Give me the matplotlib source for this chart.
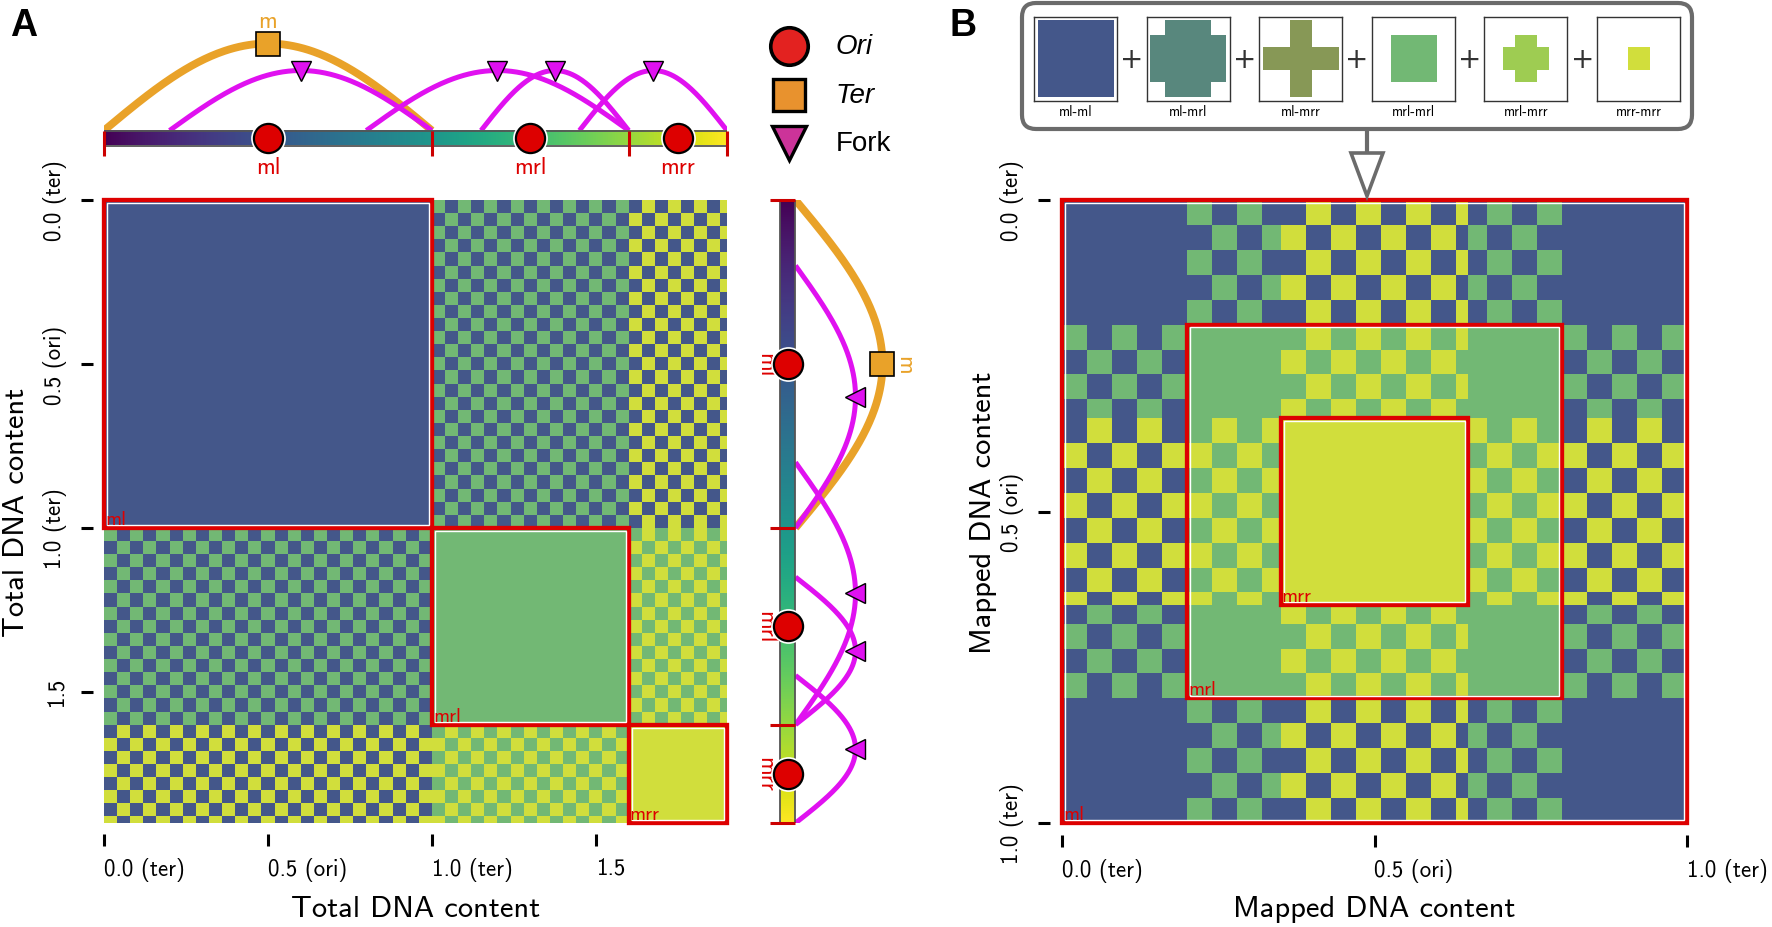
import numpy as np
import matplotlib
matplotlib.use("Agg")
import matplotlib.pyplot as plt
import matplotlib.colors as mcolors
from matplotlib.patches import Rectangle, FancyBboxPatch, Polygon

# ---------------- data ----------------
copy_names = ["ml", "mrl", "mrr"]
copy_start = [0.0, 0.2, 0.35]        # mapped start of each replicated copy
copy_end = [1.0, 0.8, 0.65]          # mapped end of each replicated copy
copy_colors = ["#44578A", "#72B874", "#D1DE3C"]
ori_position = 0.5
checker_cell = 0.04
pair_list = [(0, 0), (0, 1), (0, 2), (1, 1), (1, 2), (2, 2)]
pair_labels = ["ml-ml", "ml-mrl", "ml-mrr", "mrl-mrl", "mrl-mrr", "mrr-mrr"]
pair_colors = ["#44578A", "#58877D", "#879856", "#72B874", "#9ECC52", "#D1DE3C"]
pair_even_copy = [0, 1, 0, 1, 1, 2]  # copy whose colour fills the even checker cells
total_ticks = [0.0, 0.5, 1.0, 1.5]
total_ticklabels = ["0.0 (ter)", "0.5 (ori)", "1.0 (ter)", "1.5"]
mapped_ticks = [0.0, 0.5, 1.0]
mapped_ticklabels = ["0.0 (ter)", "0.5 (ori)", "1.0 (ter)"]
legend_labels = ["Ori", "Ter", "Fork"]
ter_label = "m"

RED = "#DD0000"
ORANGE = "#E9A229"
MAGENTA = "#E011F0"
CM = "cmss10"

W, H, DPI = 1772, 928, 100
fig = plt.figure(figsize=(W / DPI, H / DPI), dpi=DPI)


def px_axes(left, top, w, h, **kw):
    return fig.add_axes([left / W, 1 - (top + h) / H, w / W, h / H], **kw)


# ---------------- derived geometry ----------------
copy_len = [e - s for s, e in zip(copy_start, copy_end)]
copy_offset = np.concatenate([[0.0], np.cumsum(copy_len)[:-1]])
total_len = float(sum(copy_len))
ori_total = [copy_offset[k] + (ori_position - copy_start[k]) for k in range(3)]
boundaries = list(copy_offset) + [total_len]
ter_arc = (copy_offset[0], copy_offset[0] + copy_len[0])
fork_arcs = []
for k in range(1, 3):
    p = k - 1
    fork_arcs.append((copy_offset[p] + copy_start[k] - copy_start[p], copy_offset[k]))
    fork_arcs.append((copy_offset[p] + copy_end[k] - copy_start[p], copy_offset[k] + copy_len[k]))
fork_arcs.sort()

rgb = np.array([mcolors.to_rgb(c) for c in copy_colors])
even_tab = np.zeros((3, 3), int)
odd_tab = np.zeros((3, 3), int)
for (a, b), e in zip(pair_list, pair_even_copy):
    even_tab[a, b] = even_tab[b, a] = e
    o = b if e == a else a
    odd_tab[a, b] = odd_tab[b, a] = o

res = 0.01
# ---- panel A matrix (total DNA coordinates) ----
nA = int(round(total_len / res))
tA = (np.arange(nA) + 0.5) * res
kA = np.searchsorted(np.cumsum(copy_len), tA, side="right")
idxA = np.floor((tA - copy_offset[kA]) / checker_cell).astype(int)
KR, KC = np.meshgrid(kA, kA, indexing="ij")
IR, IC = np.meshgrid(idxA, idxA, indexing="ij")
par = (IR + IC) % 2
cidx = np.where(par == 0, even_tab[KR, KC], odd_tab[KR, KC])
imgA = rgb[cidx]

# ---- panel B matrix (mapped coordinates, layered) ----
nB = int(round(1.0 / res))
xB = (np.arange(nB) + 0.5) * res
imgB = np.ones((nB, nB, 3))
masks = []
for (a, b), e in zip(pair_list, pair_even_copy):
    in_a = (xB >= copy_start[a]) & (xB < copy_end[a])
    in_b = (xB >= copy_start[b]) & (xB < copy_end[b])
    ia = np.floor((xB - copy_start[a]) / checker_cell).astype(int)
    ib = np.floor((xB - copy_start[b]) / checker_cell).astype(int)
    R1 = in_a[:, None] & in_b[None, :]
    P1 = (ia[:, None] + ib[None, :]) % 2
    R2 = in_b[:, None] & in_a[None, :]
    P2 = (ib[:, None] + ia[None, :]) % 2
    masks.append(R1 | R2)
    o = b if e == a else a
    for R, P in ((R1, P1), (R2, P2)):
        imgB[R & (P == 0)] = rgb[e]
        imgB[R & (P == 1)] = rgb[o]


def style_heat(ax, ticks, labels, name, off_px, ylab_x):
    for s in ax.spines.values():
        s.set_visible(False)
    ax.spines["bottom"].set_position(("outward", off_px * 0.72))
    ax.spines["left"].set_position(("outward", off_px * 0.72))
    ax.tick_params(axis="both", direction="out", length=8.5, width=2.2, color="black", labelsize=16.5)
    ax.tick_params(axis="x", pad=8)
    ax.tick_params(axis="y", pad=10)
    ax.set_xticks(ticks, labels, ha="left", fontfamily=CM)
    ax.set_yticks(ticks, labels, rotation=90, va="center", fontfamily=CM)
    ax.set_xlabel(name, fontsize=22, fontfamily=CM)
    ax.set_ylabel(name, fontsize=22, fontfamily=CM)
    ax.xaxis.label.set_va("center")
    ax.yaxis.label.set_va("center")
    ax.xaxis.set_label_coords(0.5, -0.137)
    ax.yaxis.set_label_coords(ylab_x, 0.5)


def boxes(ax, starts, lens, scale_px):
    d = 2.9 / scale_px
    for k, (s0, L) in enumerate(zip(starts, lens)):
        ax.add_patch(Rectangle((s0, s0), L, L, fill=False, ec=RED, lw=3.1, zorder=3, clip_on=False))
        ax.add_patch(Rectangle((s0 + d, s0 + d), L - 2 * d, L - 2 * d, fill=False, ec="white", lw=1.0, zorder=3))
        ax.text(s0 + 1.0 / scale_px, s0 + L - 4.0 / scale_px, copy_names[k], color=RED, fontsize=14.5,
                fontfamily=CM, ha="left", va="baseline", zorder=4)


# ---------------- panel A heatmap ----------------
axA = px_axes(104, 201, 623, 623)
axA.imshow(imgA, extent=[0, total_len, total_len, 0], interpolation="nearest", aspect="auto")
axA.set_xlim(0, total_len)
axA.set_ylim(total_len, 0)
style_heat(axA, total_ticks, total_ticklabels, "Total DNA content", 11, -0.14)
boxes(axA, copy_offset, copy_len, 623 / total_len)

# ---------------- panel B heatmap ----------------
axB = px_axes(1062, 201, 625, 623)
axB.imshow(imgB, extent=[0, 1, 1, 0], interpolation="nearest", aspect="auto")
axB.set_xlim(0, 1)
axB.set_ylim(1, 0)
style_heat(axB, mapped_ticks, mapped_ticklabels, "Mapped DNA content", 12, -0.125)
boxes(axB, copy_start, copy_len, 625)

# ---------------- arcs helper ----------------
s = np.linspace(0, 1, 200)


def arc(t0, t1, h):
    return t0 + (t1 - t0) * s, h * np.sin(np.pi * s)


H_TER, H_FORK = 87, 60
grad = np.linspace(0, 1, 512)

# ---------------- top genome bar ----------------
axT = px_axes(104, 0, 623, 200)
bar_top, bar_h = 131.5, 15
axT.imshow(grad[None, :], cmap="viridis", extent=[0, total_len, bar_top + bar_h, bar_top],
           aspect="auto", interpolation="bilinear", zorder=2)
axT.add_patch(Rectangle((0, bar_top), total_len, bar_h, fill=False, ec="#555555", lw=1.3, zorder=3))
T, off = arc(*ter_arc, H_TER)
axT.plot(T, bar_top - off, color=ORANGE, lw=5.6, solid_capstyle="butt", zorder=1)
for f0, f1 in fork_arcs:
    T, off = arc(f0, f1, H_FORK)
    axT.plot(T, bar_top - off, color=MAGENTA, lw=3.6, solid_capstyle="butt", zorder=1.5)
    axT.plot((f0 + f1) / 2, bar_top - H_FORK, marker="v", ms=15, mfc=MAGENTA, mec="black", mew=1.0, zorder=5)
axT.plot(sum(ter_arc) / 2, bar_top - H_TER, marker="s", ms=17, mfc=ORANGE, mec="black", mew=1.2, zorder=5)
axT.text(sum(ter_arc) / 2, bar_top - H_TER - 23, ter_label, color=ORANGE, fontsize=17, fontfamily=CM,
         ha="center", va="center")
for b in boundaries:
    axT.plot([b, b], [bar_top, bar_top + 25], color="#CC0000", lw=2.2, solid_capstyle="butt", zorder=4,
             clip_on=False)
for k, o in enumerate(ori_total):
    axT.plot(o, bar_top + bar_h / 2, marker="o", ms=24, mfc="white", mec="white", zorder=5)
    axT.plot(o, bar_top + bar_h / 2, marker="o", ms=21, mfc=RED, mec="black", mew=1.6, zorder=6)
    axT.text(o, 168, copy_names[k], color=RED, fontsize=17, fontfamily=CM, ha="center", va="center")
axT.set_xlim(0, total_len)
axT.set_ylim(200, 0)
axT.axis("off")

# ---------------- right genome bar ----------------
axR = px_axes(740, 201, 190, 623)
bar_l, bar_w = 780.5, 15
bar_r = bar_l + bar_w
axR.imshow(grad[:, None], cmap="viridis", extent=[bar_l, bar_r, total_len, 0],
           aspect="auto", interpolation="bilinear", zorder=2)
axR.add_patch(Rectangle((bar_l, 0), bar_w, total_len, fill=False, ec="#555555", lw=1.3, zorder=3))
T, off = arc(*ter_arc, H_TER)
axR.plot(bar_r + off, T, color=ORANGE, lw=5.6, solid_capstyle="butt", zorder=1)
for f0, f1 in fork_arcs:
    T, off = arc(f0, f1, H_FORK)
    axR.plot(bar_r + off, T, color=MAGENTA, lw=3.6, solid_capstyle="butt", zorder=1.5)
    axR.plot(bar_r + H_FORK, (f0 + f1) / 2, marker="<", ms=15, mfc=MAGENTA, mec="black", mew=1.0, zorder=5)
axR.plot(bar_r + H_TER, sum(ter_arc) / 2, marker="s", ms=17, mfc=ORANGE, mec="black", mew=1.2, zorder=5)
axR.text(bar_r + H_TER + 22, sum(ter_arc) / 2, ter_label, color=ORANGE, fontsize=17, fontfamily=CM,
         ha="center", va="center", rotation=-90)
for b in boundaries:
    axR.plot([bar_r - 25, bar_r], [b, b], color="#CC0000", lw=2.2, solid_capstyle="butt", zorder=4,
             clip_on=False)
for k, o in enumerate(ori_total):
    axR.plot(bar_l + bar_w / 2, o, marker="o", ms=24, mfc="white", mec="white", zorder=5)
    axR.plot(bar_l + bar_w / 2, o, marker="o", ms=21, mfc=RED, mec="black", mew=1.6, zorder=6)
    axR.text(765, o, copy_names[k], color=RED, fontsize=17, fontfamily=CM, ha="center", va="center",
             rotation=-90)
axR.set_xlim(740, 930)
axR.set_ylim(total_len, 0)
axR.axis("off")

# ---------------- overlay: legend, inset box, arrow, panel letters ----------------
ov = fig.add_axes([0, 0, 1, 1], zorder=0)
ov.set_xlim(0, W)
ov.set_ylim(H, 0)
ov.axis("off")

ov.text(10, 8, "A", fontsize=27, fontweight="bold", family="Liberation Sans", ha="left", va="top")
ov.text(950, 8, "B", fontsize=27, fontweight="bold", family="Liberation Sans", ha="left", va="top")

leg_y = [47, 96, 144]
ov.plot(789, leg_y[0], marker="o", ms=27, mfc="#E32220", mec="black", mew=2.6)
ov.plot(789, leg_y[1], marker="s", ms=23, mfc="#E8922E", mec="black", mew=2.4)
ov.plot(789, leg_y[2], marker="v", ms=25, mfc="#CC3399", mec="black", mew=2.4)
for y, lab, st in zip(leg_y, legend_labels, ["italic", "italic", "normal"]):
    ov.text(836, y, lab, fontsize=20, style=st, family="Liberation Sans", ha="left", va="center")

ov.add_patch(FancyBboxPatch((1022, 4), 670, 126, boxstyle="round,pad=0,rounding_size=14",
                            ec="#6B6B6B", lw=3.0, fc="white"))
ov.plot([1367, 1367], [130, 154], color="#6B6B6B", lw=3.0, solid_capstyle="butt")
ov.add_patch(Polygon([(1351, 154), (1383, 154), (1367, 197)], closed=True, fc="white", ec="#6B6B6B", lw=2.6))

p_left0, p_step, p_w, p_top, p_h = 1034, 112.6, 83, 18, 84
for i, (mask, col, lab) in enumerate(zip(masks, pair_colors, pair_labels)):
    left = p_left0 + i * p_step
    axp = px_axes(left, p_top, p_w, p_h, zorder=3)
    rgba = np.zeros((nB, nB, 4))
    rgba[mask] = mcolors.to_rgba(col)
    axp.imshow(rgba, extent=[0, 1, 1, 0], interpolation="nearest", aspect="auto")
    axp.set_xlim(-0.05, 1.05)
    axp.set_ylim(1.05, -0.05)
    axp.set_xticks([])
    axp.set_yticks([])
    for sp in axp.spines.values():
        sp.set_linewidth(1.0)
        sp.set_color("#333333")
    ov.text(left + p_w / 2, 112, lab, fontsize=10, fontfamily=CM, ha="center", va="center")
    if i < len(masks) - 1:
        ov.text(left + p_w + (p_step - p_w) / 2, 60, "+", fontsize=20, color="#333333",
                family="DejaVu Sans", ha="center", va="center")

fig.savefig("out.png", dpi=DPI)
